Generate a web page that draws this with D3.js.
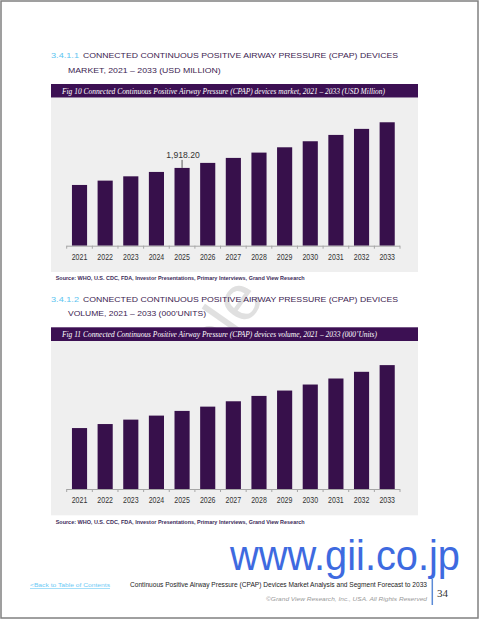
<html>
  <head>
    <meta charset='utf-8'>
    <script src='https://d3js.org/d3.v7.min.js'></script>
    <style>
      body { margin: 0; background: #fff; }
      text { font-family: 'Liberation Sans', Arial, sans-serif; }
      .serif { font-family: 'Liberation Serif', 'Times New Roman', serif; }
    </style>
  </head>
  <body>
    <div id='page'></div>
    <script>
        // data
        var years = ['2021','2022','2023','2024','2025','2026','2027','2028','2029','2030','2031','2032','2033'];
        var marketValues = [1498, 1605, 1711, 1819, 1918.2, 2042, 2165, 2296, 2427, 2576, 2732, 2881, 3044];
        var volumeValues = [455, 485, 518, 548, 583, 615, 655, 695, 735, 780, 825, 875, 925];
        var labelledYear = '2025';

        var sectionNumbers = ['3.4.1.1', '3.4.1.2'];
        var titleLine1 = 'CONNECTED CONTINUOUS POSITIVE AIRWAY PRESSURE (CPAP) DEVICES';
        var titleLine2 = ['MARKET, 2021 \u2013 2033 (USD MILLION)', 'VOLUME, 2021 \u2013 2033 (000\u2019UNITS)'];
        var figCaptions = ['Fig 10  Connected Continuous Positive Airway Pressure (CPAP) devices market, 2021 \u2013 2033 (USD Million)',
                           'Fig 11  Connected Continuous Positive Airway Pressure (CPAP) devices volume, 2021 \u2013 2033 (000\u2019Units)'];
        var sourceText = 'Source: WHO, U.S. CDC, FDA, Investor Presentations, Primary Interviews, Grand View Research';

        const W = 480, H = 621;
        const purple = '#3c1053', barColor = '#37104b', blue = '#5cc4f0';

        var svg = d3.select('#page').append('svg')
                    .attr('width', W)
                    .attr('height', H);

        // page frame
        svg.append('rect')
           .attr('x', 1).attr('y', 1)
           .attr('width', 477).attr('height', 617)
           .attr('fill', 'none')
           .attr('stroke', '#808080')
           .attr('stroke-width', 1.5);

        // faint watermark behind the charts (only the gap between charts shows it)
        svg.append('text')
           .attr('transform', 'translate(252,288) rotate(-55)')
           .attr('text-anchor', 'end')
           .attr('dominant-baseline', 'middle')
           .attr('font-size', 64)
           .attr('fill', '#e0e0e0')
           .text('Sample');

        var x = d3.scaleBand()
                  .domain(years)
                  .range([66.7, 400])
                  .paddingInner(0.41)
                  .paddingOuter(0.205);

        function drawSection(i, top, values, yMax, labelOn) {
            var g = svg.append('g');

            // heading
            g.append('text')
             .attr('x', 51).attr('y', top)
             .attr('font-size', 8)
             .attr('fill', blue)
             .attr('textLength', 28).attr('lengthAdjust', 'spacingAndGlyphs')
             .text(sectionNumbers[i]);
            g.append('text')
             .attr('x', 83).attr('y', top)
             .attr('font-size', 8)
             .attr('fill', '#3b2350')
             .attr('textLength', 315).attr('lengthAdjust', 'spacingAndGlyphs')
             .text(titleLine1);
            g.append('text')
             .attr('x', 68).attr('y', top + (i == 0 ? 15 : 14))
             .attr('font-size', 8)
             .attr('fill', '#3b2350')
             .attr('textLength', i == 0 ? 152.7 : 138).attr('lengthAdjust', 'spacingAndGlyphs')
             .text(titleLine2[i]);

            // caption bar
            var capTop = top + (i == 0 ? 25.7 : 25.6);
            g.append('rect')
             .attr('x', 51).attr('y', capTop)
             .attr('width', 367).attr('height', 13.7)
             .attr('fill', purple);
            g.append('text')
             .attr('class', 'serif')
             .attr('x', 62).attr('y', capTop + 9.8)
             .attr('font-size', 7.5)
             .attr('font-style', 'italic')
             .attr('fill', '#fff')
             .attr('textLength', i == 0 ? 323 : 315).attr('lengthAdjust', 'spacingAndGlyphs')
             .text(figCaptions[i]);

            // plot panel
            var panelTop = capTop + 13.7;
            g.append('rect')
             .attr('x', 51).attr('y', panelTop)
             .attr('width', 367).attr('height', 174.3)
             .attr('fill', '#efefef');

            var base = panelTop + 148;
            var y = d3.scaleLinear()
                      .domain([0, yMax])
                      .range([base, panelTop]);

            g.selectAll('.bar')
             .data(values)
             .enter().append('rect')
             .attr('class', 'bar')
             .attr('x', function(d, k) { return x(years[k]); })
             .attr('y', function(d) { return y(d); })
             .attr('width', x.bandwidth())
             .attr('height', function(d) { return base - y(d); })
             .attr('fill', barColor);

            // x axis: line, ticks between bands, labels
            var axis_g = g.append('g');
            axis_g.append('line')
                  .attr('x1', x.range()[0]).attr('x2', x.range()[1])
                  .attr('y1', base + 0.5).attr('y2', base + 0.5)
                  .attr('stroke', '#a6a6a6');
            var edges = years.map(function(d) { return x(d) - x.step() * x.paddingInner() / 2; });
            edges.push(x.range()[1]);
            axis_g.selectAll('.tick')
                  .data(edges)
                  .enter().append('line')
                  .attr('x1', function(d) { return d; }).attr('x2', function(d) { return d; })
                  .attr('y1', base).attr('y2', base + 3)
                  .attr('stroke', '#a6a6a6');
            axis_g.selectAll('.lab')
                  .data(years)
                  .enter().append('text')
                  .attr('x', function(d) { return x(d) + x.bandwidth() / 2 - 7.8; })
                  .attr('y', base + 14)
                  .attr('font-size', 9)
                  .attr('fill', '#333')
                  .attr('textLength', 15.6).attr('lengthAdjust', 'spacingAndGlyphs')
                  .text(function(d) { return d; });

            if (labelOn) {
                var k = years.indexOf(labelledYear);
                var cx = x(labelledYear) + x.bandwidth() / 2;
                g.append('line')
                 .attr('x1', cx).attr('x2', cx)
                 .attr('y1', y(values[k]) - 8).attr('y2', y(values[k]))
                 .attr('stroke', '#333').attr('stroke-width', 0.8);
                g.append('text')
                 .attr('x', cx + 1).attr('y', y(values[k]) - 9.5)
                 .attr('text-anchor', 'middle')
                 .attr('font-size', 8.6)
                 .attr('fill', '#333')
                 .text(d3.format(',.2f')(values[k]));
            }

            // source line
            g.append('text')
             .attr('x', 55.7).attr('y', panelTop + 182.6)
             .attr('font-size', 5.6)
             .attr('font-weight', 'bold')
             .attr('fill', '#3b2a5a')
             .attr('textLength', 249).attr('lengthAdjust', 'spacingAndGlyphs')
             .text(sourceText);
        }

        drawSection(0, 58.3, marketValues, 3650, true);
        drawSection(1, 301.7, volumeValues, 1105, false);

        // footer
        var foot = svg.append('g');
        foot.append('text')
            .attr('x', 230).attr('y', 570)
            .attr('font-size', 42)
            .attr('fill', '#3e6ae0')
            .attr('textLength', 230).attr('lengthAdjust', 'spacingAndGlyphs')
            .text('www.gii.co.jp');
        foot.append('text')
            .attr('x', 30).attr('y', 587)
            .attr('font-size', 6)
            .attr('fill', '#6ccaf5')
            .attr('text-decoration', 'underline')
            .attr('textLength', 80).attr('lengthAdjust', 'spacingAndGlyphs')
            .text('<Back to Table of Contents');
        foot.append('text')
            .attr('x', 130).attr('y', 587)
            .attr('font-size', 6.3)
            .attr('fill', '#222')
            .attr('textLength', 297).attr('lengthAdjust', 'spacingAndGlyphs')
            .text('Continuous Positive Airway Pressure (CPAP) Devices Market Analysis and Segment Forecast to 2033');
        foot.append('text')
            .attr('x', 266).attr('y', 601)
            .attr('font-size', 6)
            .attr('font-style', 'italic')
            .attr('fill', '#9a9a9a')
            .attr('textLength', 161).attr('lengthAdjust', 'spacingAndGlyphs')
            .text('\u00a9Grand View Research, Inc., USA. All Rights Reserved');
        foot.append('line')
            .attr('x1', 432.3).attr('x2', 432.3)
            .attr('y1', 579).attr('y2', 605)
            .attr('stroke', '#5b8ad6').attr('stroke-width', 1.5);
        foot.append('text')
            .attr('class', 'serif')
            .attr('x', 437).attr('y', 597)
            .attr('font-size', 11)
            .attr('fill', '#333')
            .text('34');
    </script>
  </body>
</html>
